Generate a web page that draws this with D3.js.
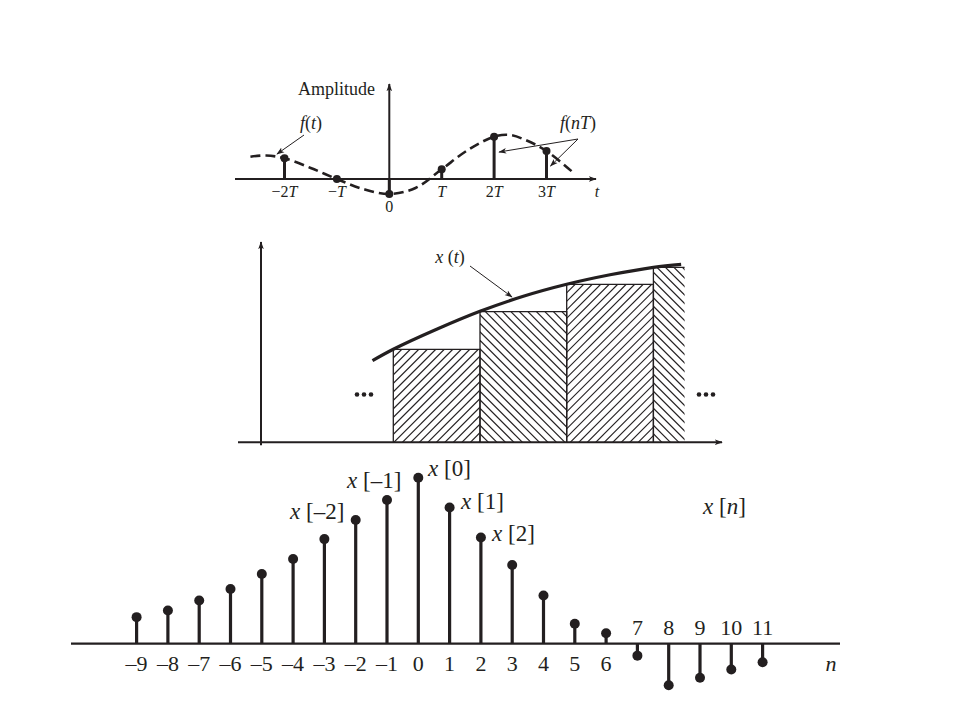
<!DOCTYPE html>
<html>
<head>
<meta charset="utf-8">
<script src="https://cdn.jsdelivr.net/npm/d3@7"></script>
<style>
  body { margin: 0; background: #fff; }
  svg { display: block; }
</style>
</head>
<body>
<script>
// ---------- DATA ----------
// Top panel: sampled signal f(nT), n = sample index
const topSampleN = [-2, -1, 0, 1, 2, 3];
const topSampleVal = [2.07, 0.0, -1.5, 0.97, 4.23, 2.8];
const topTickLabels = ["\u22122T", "\u2212T", "0", "T", "2T", "3T"];
// Dashed continuous f(t): t (in units of T), amplitude
const fCurveT = [-2.65, -2.35, -2.0, -1.5, -1.0, -0.5, 0.0, 0.5, 1.0, 1.5, 2.0, 2.3, 2.6, 3.0, 3.49];
const fCurveV = [2.23, 2.35, 2.07, 1.1, 0.0, -1.0, -1.5, -0.9, 0.97, 2.9, 4.23, 4.4, 3.9, 2.8, 0.73];

// Middle panel: staircase (sample-and-hold) and x(t)
const holdK = [0, 1, 2, 3];
const holdVal = [93, 130.6, 158, 175];
const holdWidth = [1, 1, 1, 0.36];
const xtCurveT = [-0.24, 0.0, 0.5, 1.0, 1.5, 2.0, 2.5, 3.0, 3.32];
const xtCurveV = [81.6, 93, 113, 131, 146, 158, 167.5, 175, 178];

// Bottom panel: discrete sequence x[n]
const nIdx = [-9, -8, -7, -6, -5, -4, -3, -2, -1, 0, 1, 2, 3, 4, 5, 6, 7, 8, 9, 10, 11];
const xVals = [0.16, 0.20, 0.26, 0.33, 0.42, 0.51, 0.63, 0.745, 0.866, 1.0, 0.82, 0.64, 0.474, 0.29, 0.12, 0.063, -0.072, -0.25, -0.205, -0.155, -0.112];
const nTickLabels = ["\u20139","\u20138","\u20137","\u20136","\u20135","\u20134","\u20133","\u20132","\u20131","0","1","2","3","4","5","6","7","8","9","10","11"];
const seqLabels = [
  {n: -2, text: "\u20132"},
  {n: -1, text: "\u20131"},
  {n: 0, text: "0"},
  {n: 1, text: "1"},
  {n: 2, text: "2"}
];

// ---------- SVG ----------
const ink = "#231f20";
const FONT = "Liberation Serif";
const svg = d3.select("body").append("svg").attr("width", 960).attr("height", 720)
  .attr("font-family", FONT);
const defs = svg.append("defs");
defs.append("marker").attr("id", "arrowSmall").attr("viewBox", "0 0 10 10")
  .attr("refX", 9).attr("refY", 5).attr("markerWidth", 8).attr("markerHeight", 8)
  .attr("markerUnits", "userSpaceOnUse").attr("orient", "auto")
  .append("path").attr("d", "M0,1.5 L10,5 L0,8.5 L2.5,5 Z").attr("fill", ink);

function richText(g, x, y, parts, size, anchor) {
  const t = g.append("text").attr("x", x).attr("y", y).attr("font-size", size)
    .attr("font-family", FONT).attr("fill", ink)
    .attr("text-anchor", anchor || "middle");
  parts.forEach(p => t.append("tspan").attr("font-style", p.i ? "italic" : "normal").text(p.s));
  return t;
}

// ---------- TOP PANEL ----------
const xT = d3.scaleLinear().domain([-2, 3]).range([284.5, 546.5]);
const yT = d3.scaleLinear().domain([-2, 5]).range([199, 129]);
const gT = svg.append("g");

gT.append("line").attr("x1", 235).attr("x2", 596).attr("y1", yT(0)).attr("y2", yT(0))
  .attr("stroke", ink).attr("stroke-width", 2).attr("marker-end", "url(#arrowSmall)");
gT.append("line").attr("x1", xT(0)).attr("x2", xT(0)).attr("y1", yT(-1.5)).attr("y2", 84)
  .attr("stroke", ink).attr("stroke-width", 2).attr("marker-end", "url(#arrowSmall)");

const lineT = d3.line().x((d, i) => xT(fCurveT[i])).y((d, i) => yT(fCurveV[i])).curve(d3.curveCatmullRom);
gT.append("path").datum(fCurveT).attr("d", lineT)
  .attr("fill", "none").attr("stroke", ink).attr("stroke-width", 2.6)
  .attr("stroke-dasharray", "10,5");

gT.selectAll(".tstem").data(topSampleN).join("line")
  .attr("x1", d => xT(d)).attr("x2", d => xT(d))
  .attr("y1", yT(0)).attr("y2", (d, i) => yT(topSampleVal[i]))
  .attr("stroke", ink).attr("stroke-width", 3);
gT.selectAll(".tdot").data(topSampleN).join("circle")
  .attr("cx", d => xT(d)).attr("cy", (d, i) => yT(topSampleVal[i])).attr("r", 4)
  .attr("fill", ink);

topSampleN.forEach((n, i) => {
  const lab = topTickLabels[i];
  if (lab === "0") {
    richText(gT, xT(n), 212, [{s: "0"}], 16);
  } else {
    const num = lab.replace("T", "");
    richText(gT, xT(n), 197, [{s: num}, {s: "T", i: true}], 16);
  }
});
richText(gT, 597, 197, [{s: "t", i: true}], 16);
richText(gT, 298, 95, [{s: "Amplitude"}], 18, "start");
richText(gT, 311, 129, [{s: "f", i: true}, {s: "("}, {s: "t", i: true}, {s: ")"}], 18);
richText(gT, 578, 129, [{s: "f", i: true}, {s: "("}, {s: "nT", i: true}, {s: ")"}], 18);

gT.append("line").attr("x1", 304).attr("y1", 135).attr("x2", 277).attr("y2", 154)
  .attr("stroke", ink).attr("stroke-width", 1).attr("marker-end", "url(#arrowSmall)");
gT.append("line").attr("x1", 578).attr("y1", 139).attr("x2", xT(2) + 5).attr("y2", 152)
  .attr("stroke", ink).attr("stroke-width", 1).attr("marker-end", "url(#arrowSmall)");
gT.append("line").attr("x1", 578).attr("y1", 139).attr("x2", xT(3) + 4).attr("y2", 166)
  .attr("stroke", ink).attr("stroke-width", 1).attr("marker-end", "url(#arrowSmall)");

// ---------- MIDDLE PANEL ----------
const xM = d3.scaleLinear().domain([0, 1]).range([393.3, 480]);
const yM = d3.scaleLinear().domain([0, 100]).range([442.3, 342.3]);
const gM = svg.append("g");

holdK.forEach((k, i) => {
  const x0 = xM(k), x1 = xM(k + holdWidth[i]), y0 = yM(holdVal[i]), yb = yM(0);
  const cid = "clipBar" + k;
  defs.append("clipPath").attr("id", cid).append("rect")
    .attr("x", x0).attr("y", y0).attr("width", x1 - x0).attr("height", yb - y0);
  const hg = gM.append("g").attr("clip-path", `url(#${cid})`);
  const h = yb - y0, step = 8.5;
  const up = k % 2 === 0; // "/" for even bars, "\" for odd bars
  const offsets = d3.range(x0 - h - step, x1 + h + step, step);
  hg.selectAll("line").data(offsets).join("line")
    .attr("x1", d => d).attr("y1", up ? yb : y0)
    .attr("x2", d => d + h).attr("y2", up ? y0 : yb)
    .attr("stroke", ink).attr("stroke-width", 1.2);
  const full = holdWidth[i] >= 1;
  const d = full
    ? `M${x0},${yb} L${x0},${y0} L${x1},${y0} L${x1},${yb}`
    : `M${x0},${yb} L${x0},${y0} L${x1},${y0}`;
  gM.append("path").attr("d", d).attr("fill", "none").attr("stroke", ink).attr("stroke-width", 1.3);
});

gM.append("line").attr("x1", 238).attr("x2", 722).attr("y1", yM(0)).attr("y2", yM(0))
  .attr("stroke", ink).attr("stroke-width", 2).attr("marker-end", "url(#arrowSmall)");
gM.append("line").attr("x1", 261).attr("x2", 261).attr("y1", yM(0) + 3).attr("y2", 242)
  .attr("stroke", ink).attr("stroke-width", 2).attr("marker-end", "url(#arrowSmall)");

const lineM = d3.line().x((d, i) => xM(xtCurveT[i])).y((d, i) => yM(xtCurveV[i])).curve(d3.curveCatmullRom);
gM.append("path").datum(xtCurveT).attr("d", lineM)
  .attr("fill", "none").attr("stroke", ink).attr("stroke-width", 3.2);

richText(gM, 450, 263, [{s: "x", i: true}, {s: " ("}, {s: "t", i: true}, {s: ")"}], 18);
gM.append("line").attr("x1", 470).attr("y1", 266).attr("x2", 512).attr("y2", 297)
  .attr("stroke", ink).attr("stroke-width", 1).attr("marker-end", "url(#arrowSmall)");

[[357, 364, 371], [699, 706, 713]].forEach(xs => {
  xs.forEach(x => gM.append("circle").attr("cx", x).attr("cy", 394.5).attr("r", 2.3).attr("fill", ink));
});

// ---------- BOTTOM PANEL ----------
const xB = d3.scaleLinear().domain([0, 10]).range([418.3, 731.3]);
const yB = d3.scaleLinear().domain([0, 1]).range([643.7, 477.7]);
const gB = svg.append("g");

gB.append("line").attr("x1", 71).attr("x2", 840).attr("y1", yB(0)).attr("y2", yB(0))
  .attr("stroke", ink).attr("stroke-width", 2.2);

gB.selectAll(".bstem").data(nIdx).join("line")
  .attr("x1", d => xB(d)).attr("x2", d => xB(d))
  .attr("y1", yB(0)).attr("y2", (d, i) => yB(xVals[i]))
  .attr("stroke", ink).attr("stroke-width", 3.2);
gB.selectAll(".bdot").data(nIdx).join("circle")
  .attr("cx", d => xB(d)).attr("cy", (d, i) => yB(xVals[i])).attr("r", 5)
  .attr("fill", ink);

nIdx.forEach((n, i) => {
  const above = xVals[i] < 0;
  richText(gB, xB(n), above ? 635 : 671, [{s: nTickLabels[i]}], 22);
});
richText(gB, 831, 671, [{s: "n", i: true}], 22);

const seqPos = {
  "-2": {x: 290, y: 519},
  "-1": {x: 347, y: 488},
  "0": {x: 428, y: 476},
  "1": {x: 461, y: 509},
  "2": {x: 492, y: 541}
};
seqLabels.forEach(s => {
  const p = seqPos[String(s.n)];
  richText(gB, p.x, p.y, [{s: "x", i: true}, {s: " [" + s.text + "]"}], 23, "start");
});
richText(gB, 703, 514, [{s: "x", i: true}, {s: " ["}, {s: "n", i: true}, {s: "]"}], 23, "start");
</script>
</body>
</html>
